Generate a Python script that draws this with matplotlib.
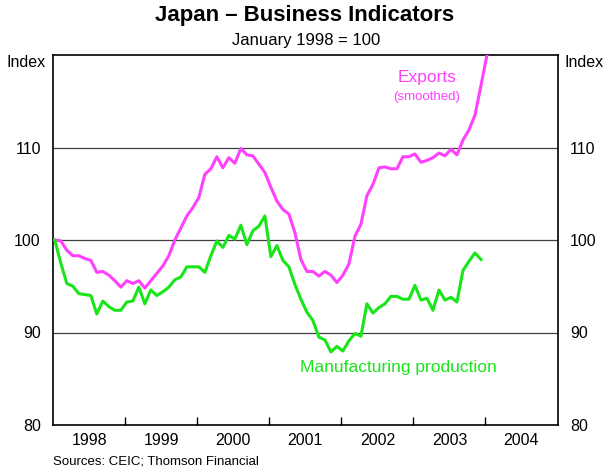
import numpy as np
import matplotlib
matplotlib.use("Agg")
import matplotlib.pyplot as plt

plt.rcParams['font.family'] = ['Liberation Sans', 'DejaVu Sans']

# monthly index, January 1998 = 100
exports = [100.0, 99.9, 98.9, 98.3, 98.3, 98.0, 97.8, 96.5, 96.6, 96.2, 95.6, 94.9,
           95.6, 95.3, 95.6, 94.8, 95.6, 96.4, 97.2, 98.3, 100.0, 101.3, 102.6, 103.5,
           104.6, 107.1, 107.7, 109.0, 107.8, 108.9, 108.3, 109.9, 109.2, 109.1, 108.2, 107.3,
           105.7, 104.2, 103.3, 102.8, 100.8, 97.9, 96.6, 96.6, 96.1, 96.6, 96.2, 95.4,
           96.2, 97.4, 100.4, 101.7, 104.8, 106.0, 107.8, 107.9, 107.7, 107.7, 109.0, 109.0,
           109.3, 108.4, 108.6, 108.9, 109.4, 109.1, 109.8, 109.2, 110.8, 111.9, 113.5, 116.7,
           120.0]
production = [100.0, 97.5, 95.3, 95.0, 94.2, 94.1, 94.0, 92.0, 93.4, 92.8, 92.4, 92.4,
              93.3, 93.4, 94.9, 93.1, 94.6, 94.0, 94.4, 94.9, 95.7, 96.0, 97.1, 97.1,
              97.1, 96.5, 98.3, 99.9, 99.2, 100.5, 100.1, 101.6, 99.5, 101.0, 101.5, 102.6,
              98.2, 99.4, 97.8, 97.1, 95.2, 93.6, 92.2, 91.3, 89.5, 89.2, 87.9, 88.5,
              88.0, 89.1, 89.9, 89.6, 93.1, 92.1, 92.7, 93.1, 93.9, 93.9, 93.6, 93.6,
              95.1, 93.5, 93.7, 92.4, 94.6, 93.5, 93.8, 93.3, 96.7, 97.7, 98.6, 97.9]
years = [1998, 1999, 2000, 2001, 2002, 2003, 2004]

t_exp = 1998 + (np.arange(len(exports)) + 0.25) / 12
t_prod = 1998 + (np.arange(len(production)) + 0.25) / 12

magenta = '#ff40ff'
green = '#19e619'

fig = plt.figure(figsize=(6.12, 4.70), dpi=100)
ax = fig.add_axes([53.3/612, 1 - 425/470, (557.5-53.3)/612, (425-55)/470])

for y in [90, 100, 110]:
    ax.axhline(y, color='#404040', lw=0.9, zorder=1)

ax.plot(t_exp, exports, color=magenta, lw=2.2, zorder=3)
ax.plot(t_prod, production, color=green, lw=2.2, zorder=3)

ax.set_xlim(1998, 2005)
ax.set_ylim(80, 120)

# year ticks at boundaries, labels centred in each year
ax.set_xticks(np.arange(1999, 2005))
ax.set_xticklabels([])
ax.set_xticks(np.array(years) + 0.5, minor=True)
ax.set_xticklabels([str(y) for y in years], minor=True, fontsize=11.5)
ax.tick_params(axis='x', which='major', direction='in', length=6, width=1, color='black')
ax.tick_params(axis='x', which='minor', length=0, pad=6)

ax.set_yticks([80, 90, 100, 110])
ax.tick_params(axis='y', which='both', length=0, labelsize=11.5, pad=9,
               labelleft=True, labelright=True)

for s in ax.spines.values():
    s.set_linewidth(1.2)
    s.set_color('black')

ax.text(-0.016, 0.981, 'Index', transform=ax.transAxes, ha='right', va='center', fontsize=11.5)
ax.text(1.014, 0.981, 'Index', transform=ax.transAxes, ha='left', va='center', fontsize=11.5)

ax.text(2003.19, 117.6, 'Exports', color=magenta, ha='center', va='center', fontsize=12.5)
ax.text(2003.18, 115.5, '(smoothed)', color=magenta, ha='center', va='center', fontsize=9.5)
ax.text(2002.79, 86.2, 'Manufacturing production', color=green, ha='center', va='center',
        fontsize=12.5)

fig.text(305/612, 1 - 16/470, 'Japan \u2013 Business Indicators', ha='center', va='center',
         fontsize=16, fontweight='bold')
fig.text(306/612, 1 - 40/470, 'January 1998 = 100', ha='center', va='center', fontsize=12)
fig.text(53/612, 1 - 462/470, 'Sources: CEIC; Thomson Financial', ha='left', va='center',
         fontsize=9.5)

fig.savefig('out.png', dpi=100)
